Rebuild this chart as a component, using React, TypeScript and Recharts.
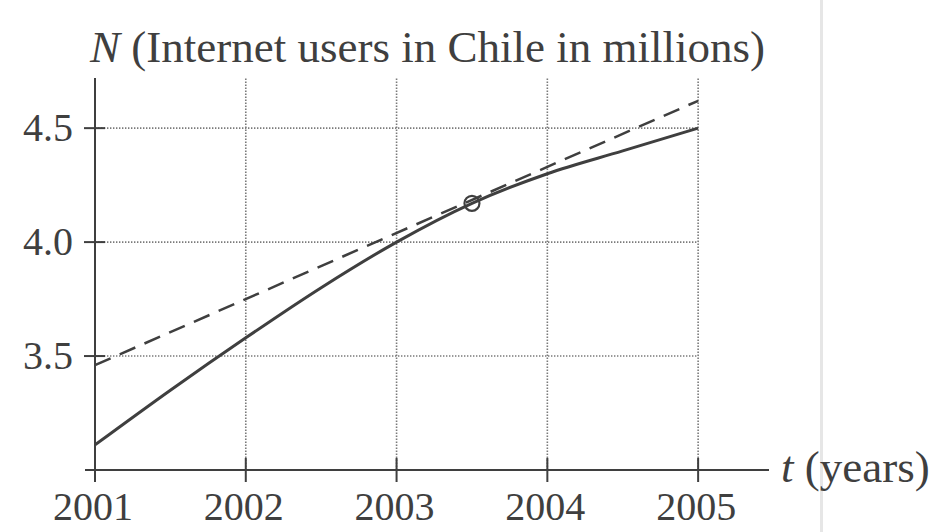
import React from 'react';
import { ComposedChart, Line, XAxis, YAxis, ReferenceLine, ReferenceDot } from 'recharts';

const years = [2001, 2001.5, 2002, 2002.5, 2003, 2003.5, 2004, 2004.5, 2005];
const users = [3.11, 3.35, 3.58, 3.8, 4.0, 4.17, 4.3, 4.4, 4.5];
const tangentYears = [2001, 2005];
const tangentValues = [3.46, 4.62];
const pointYear = 2003.5;
const pointValue = 4.17;
const xTicks = [2001, 2002, 2003, 2004, 2005];
const yTicks = [3.5, 4.0, 4.5];
const gridYears = [2002, 2003, 2004, 2005];
const titleVar = 'N';
const titleText = ' (Internet users in Chile in millions)';
const xVar = 't';
const xText = ' (years)';

const curveData = years.map((t, i) => ({ t, n: users[i] }));
const tangentData = tangentYears.map((t, i) => ({ t, n: tangentValues[i] }));

const INK = '#3f3f3f';
const GRID = '#7a7a7a';
const FONT = '"Liberation Serif", "Times New Roman", serif';
const FS = 40;
const FS_LABEL = 45;

const XTick = (props: any) => {
  const { x, y, payload, index } = props;
  return (
    <g>
      <line x1={x} x2={x} y1={y - 12} y2={y + 12} stroke={INK} strokeWidth={2} />
      {index === 0 && <line x1={x - 10} x2={x} y1={y} y2={y} stroke={INK} strokeWidth={2} />}
      <text x={x - 2} y={y + 50} textAnchor="middle" fontFamily={FONT} fontSize={FS} fill={INK}>
        {payload.value}
      </text>
    </g>
  );
};

const YTick = (props: any) => {
  const { x, y, payload } = props;
  return (
    <g>
      <line x1={x - 11} x2={x + 10} y1={y} y2={y} stroke={INK} strokeWidth={2} />
      <text x={x - 22} y={y + 13} textAnchor="end" fontFamily={FONT} fontSize={FS} fill={INK}>
        {Number(payload.value).toFixed(1)}
      </text>
    </g>
  );
};

const YTitle = (props: any) => {
  const vb = props.viewBox || {};
  const ax = (vb.x || 0) + (vb.width || 0);
  return (
    <text x={ax - 5} y={(vb.y || 0) - 16} fontFamily={FONT} fontSize={FS_LABEL} fill={INK}>
      <tspan fontStyle="italic">{titleVar}</tspan>
      <tspan>{titleText}</tspan>
    </text>
  );
};

const XTitle = (props: any) => {
  const vb = props.viewBox || {};
  return (
    <text x={(vb.x || 0) + (vb.width || 0) + 12} y={(vb.y || 0) + 12} fontFamily={FONT} fontSize={FS_LABEL} fill={INK}>
      <tspan fontStyle="italic">{xVar}</tspan>
      <tspan>{xText}</tspan>
    </text>
  );
};

export default function App() {
  return (
    <div style={{ position: 'absolute', left: 0, top: 0, width: 932, height: 532, background: '#fff' }}>
      <div style={{ position: 'absolute', left: 820, top: 0, width: 3, height: 532, background: '#e6e6e6' }} />
      <ComposedChart
        width={932}
        height={532}
        margin={{ top: 78, right: 163, bottom: 22, left: 45 }}
        style={{ position: 'absolute', left: 0, top: 0 }}
      >
        <XAxis
          type="number"
          dataKey="t"
          domain={[2001, 2005.47]}
          ticks={xTicks}
          allowDataOverflow
          height={40}
          tickSize={0}
          tickMargin={0}
          tick={<XTick />}
          axisLine={{ stroke: INK, strokeWidth: 2 }}
          tickLine={false}
          label={<XTitle />}
        />
        <YAxis
          type="number"
          domain={[3.0, 4.72]}
          ticks={yTicks}
          allowDataOverflow
          width={50}
          tickSize={0}
          tickMargin={0}
          tick={<YTick />}
          axisLine={{ stroke: INK, strokeWidth: 2 }}
          tickLine={false}
          label={<YTitle />}
        />
        {gridYears.map((g) => (
          <ReferenceLine key={'vx' + g} x={g} stroke={GRID} strokeWidth={1.6} strokeDasharray="1.4 1.6" />
        ))}
        {yTicks.map((v) => (
          <ReferenceLine
            key={'hy' + v}
            segment={[{ x: xTicks[0], y: v }, { x: xTicks[xTicks.length - 1], y: v }]}
            stroke={GRID}
            strokeWidth={1.6}
            strokeDasharray="1.4 1.6"
          />
        ))}
        <Line
          data={tangentData}
          dataKey="n"
          type="linear"
          stroke={INK}
          strokeWidth={2.5}
          strokeDasharray="17 10"
          dot={false}
          activeDot={false}
          isAnimationActive={false}
        />
        <Line
          data={curveData}
          dataKey="n"
          type="monotone"
          stroke={INK}
          strokeWidth={3}
          dot={false}
          activeDot={false}
          isAnimationActive={false}
        />
        <ReferenceDot x={pointYear} y={pointValue} r={7.5} fill="none" stroke={INK} strokeWidth={2.2} />
      </ComposedChart>
    </div>
  );
}
